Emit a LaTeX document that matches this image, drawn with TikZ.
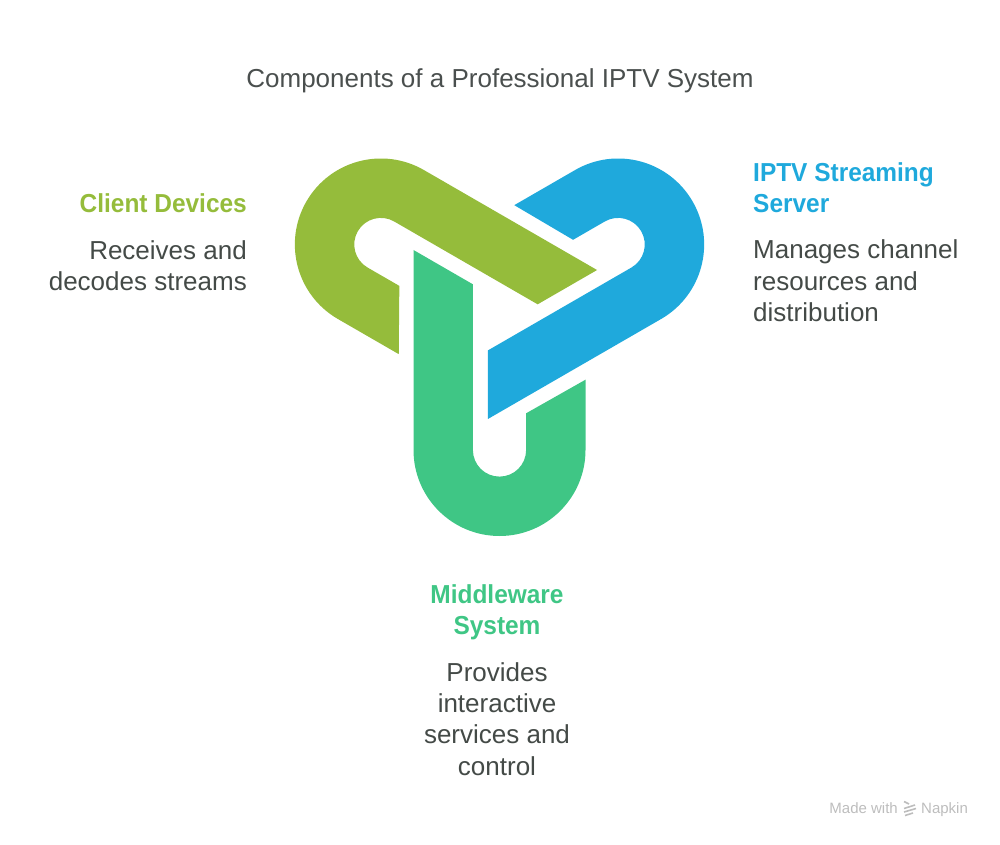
\documentclass[tikz,border=0pt]{standalone}
\usepackage{fontspec}
\setmainfont[BoldFeatures={FakeStretch=0.94}]{Liberation Sans}
\definecolor{olive}{HTML}{95BC3B}
\definecolor{sky}{HTML}{1FA9DC}
\definecolor{mint}{HTML}{3FC685}
\definecolor{titlegrey}{HTML}{4A4F4E}
\definecolor{bodygrey}{HTML}{444A47}
\definecolor{markgrey}{HTML}{BDBDBD}
\tikzset{
  titletext/.style={font=\fontsize{26}{31}\selectfont,text=titlegrey,inner sep=0pt},
  headtext/.style={font=\fontsize{26}{31.2}\selectfont\bfseries,inner sep=0pt},
  bodytext/.style={font=\fontsize{26}{31.3}\selectfont,text=bodygrey,inner sep=0pt},
  marktext/.style={font=\fontsize{15}{16}\selectfont,text=markgrey,inner sep=0pt}
}
\newcommand{\linkshape}{(-86,63) -- (-26.6,28.7) -- (-26.6,-137) arc[start angle=180,end angle=360,radius=26.6] -- (26.6,-100.3) -- (86,-66.7) -- (86,-137) arc[start angle=0,end angle=-180,radius=86] -- cycle}
\begin{document}
\begin{tikzpicture}[x=1pt,y=1pt]
\useasboundingbox (0,0) rectangle (1000,844);
\begin{scope}[shift={(499.5,531)}]
  \begin{scope}[rotate=-120]\fill[olive] \linkshape;\end{scope}
  \begin{scope}[rotate=120]\fill[sky] \linkshape;\end{scope}
  \fill[mint] \linkshape;
\end{scope}
\node[titletext] (title) at (500,763.5) {Components of a Professional IPTV System};
\node[headtext,text=olive,anchor=east] (clienth) at (247,641) {Client Devices};
\node[bodytext,align=right,anchor=east] (clientb) at (247,578.5) {Receives and\\decodes streams};
\node[headtext,text=sky,align=left,anchor=west] (serverh) at (753,656.5) {IPTV Streaming\\Server};
\node[bodytext,align=left,anchor=west] (serverb) at (753,563) {Manages channel\\resources and\\distribution};
\node[headtext,text=mint,align=center] (middleh) at (497,232) {Middleware\\System};
\node[bodytext,align=center] (middleb) at (497,125) {Provides\\interactive\\services and\\control};
\node[marktext,anchor=base east] (madewith) at (898,31) {Made with};
\node[marktext,anchor=base west] (napkin) at (921,31) {Napkin};
\begin{scope}[markgrey,line width=1.6pt]
  \draw (904,42.5) -- (909,40);
  \draw (904,35.5) -- (915,39);
  \draw (904,32) -- (916,35.5);
  \draw (905,28.5) -- (913,31);
\end{scope}
\end{tikzpicture}
\end{document}
